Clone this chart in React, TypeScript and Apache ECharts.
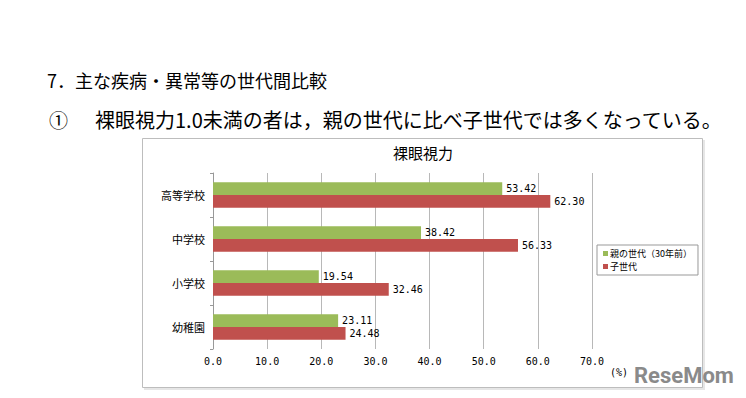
import React, { useEffect, useRef } from "react";
import * as echarts from "echarts";

const categories = ["高等学校", "中学校", "小学校", "幼稚園"];
const parentGen = [53.42, 38.42, 19.54, 23.11];
const childGen = [62.3, 56.33, 32.46, 24.48];
const seriesNames = ["親の世代（30年前）", "子世代"];
const xTicks = { min: 0, max: 70, interval: 10 };

const JP = '"Noto Sans CJK JP", sans-serif';

export default function App() {
  const ref = useRef<HTMLDivElement>(null);
  useEffect(() => {
    if (!ref.current) return;
    const chart = echarts.init(ref.current, undefined, { renderer: "svg" });
    const labelStyle = {
      show: true,
      position: "right" as const,
      distance: 4,
      color: "#000",
      fontSize: 10,
      fontFamily: "DejaVu Sans Mono, monospace",
      formatter: (p: any) => Number(p.value).toFixed(2),
    };
    chart.setOption({
      animation: false,
      backgroundColor: "#fff",
      title: {
        text: "裸眼視力",
        left: 388,
        top: 140,
        textStyle: { fontFamily: JP, fontSize: 15, fontWeight: "normal", color: "#000" },
      },
      legend: {
        orient: "vertical",
        left: 597,
        top: 245,
        width: 101,
        padding: [4, 6, 4, 6],
        itemGap: 4,
        itemWidth: 5,
        itemHeight: 5,
        icon: "rect",
        borderColor: "#999",
        borderWidth: 1,
        textStyle: { fontFamily: JP, fontSize: 9, color: "#000", padding: [0, 0, 0, -3] },
        data: seriesNames,
      },
      grid: { left: 213, right: 154, top: 173, bottom: 49, containLabel: false },
      xAxis: {
        type: "value",
        min: xTicks.min,
        max: xTicks.max,
        interval: xTicks.interval,
        axisLine: { show: false },
        axisTick: { show: false },
        axisLabel: {
          color: "#000",
          fontSize: 10,
          fontFamily: "DejaVu Sans Mono, monospace",
          margin: 7,
          formatter: (v: number) => v.toFixed(1),
        },
        splitLine: { show: true, lineStyle: { color: "#b8b8b8", width: 1 } },
      },
      yAxis: {
        type: "category",
        inverse: true,
        data: categories,
        axisLine: { show: true, lineStyle: { color: "#999" } },
        axisTick: { show: true, length: 3, lineStyle: { color: "#999" } },
        axisLabel: { color: "#000", fontSize: 11, fontFamily: JP, margin: 8 },
      },
      series: [
        {
          name: seriesNames[0],
          type: "bar",
          data: parentGen,
          itemStyle: { color: "#9BBB59" },
          barGap: "0%",
          barCategoryGap: "42%",
          label: labelStyle,
        },
        {
          name: seriesNames[1],
          type: "bar",
          data: childGen,
          itemStyle: { color: "#C0504D" },
          label: labelStyle,
        },
      ],
      graphic: [
        {
          type: "rect",
          z: -1,
          shape: { x: 144, y: 140, width: 561, height: 250 },
          style: { fill: "#e6e6e6" },
        },
        {
          type: "rect",
          z: -1,
          shape: { x: 142.5, y: 138.5, width: 560, height: 249 },
          style: { fill: "#fff", stroke: "#bdbdbd", lineWidth: 1 },
        },
        {
          type: "text",
          x: 47,
          y: 80,
          style: {
            text: "7．主な疾病・異常等の世代間比較",
            font: `18px ${JP}`,
            fill: "#000",
            verticalAlign: "middle",
          },
        },
        {
          type: "text",
          x: 49,
          y: 119,
          style: {
            text: "①",
            font: `19px ${JP}`,
            fill: "#000",
            verticalAlign: "middle",
          },
        },
        {
          type: "text",
          x: 95,
          y: 119,
          style: {
            text: "裸眼視力1.0未満の者は，親の世代に比べ子世代では多くなっている。",
            font: `20px ${JP}`,
            fill: "#000",
            verticalAlign: "middle",
          },
        },
        {
          type: "text",
          x: 610,
          y: 372,
          style: {
            text: "(%)",
            font: `10px DejaVu Sans Mono, monospace`,
            fill: "#000",
            verticalAlign: "middle",
          },
        },
        {
          type: "text",
          x: 634,
          y: 375,
          style: {
            text: "ReseMom",
            font: `bold 22px Roboto, sans-serif`,
            fill: "#8a8a8a",
            verticalAlign: "middle",
          },
        },
      ],
    });
    return () => chart.dispose();
  }, []);
  return <div ref={ref} style={{ width: 746, height: 398, position: "absolute", left: 0, top: 0 }} />;
}
